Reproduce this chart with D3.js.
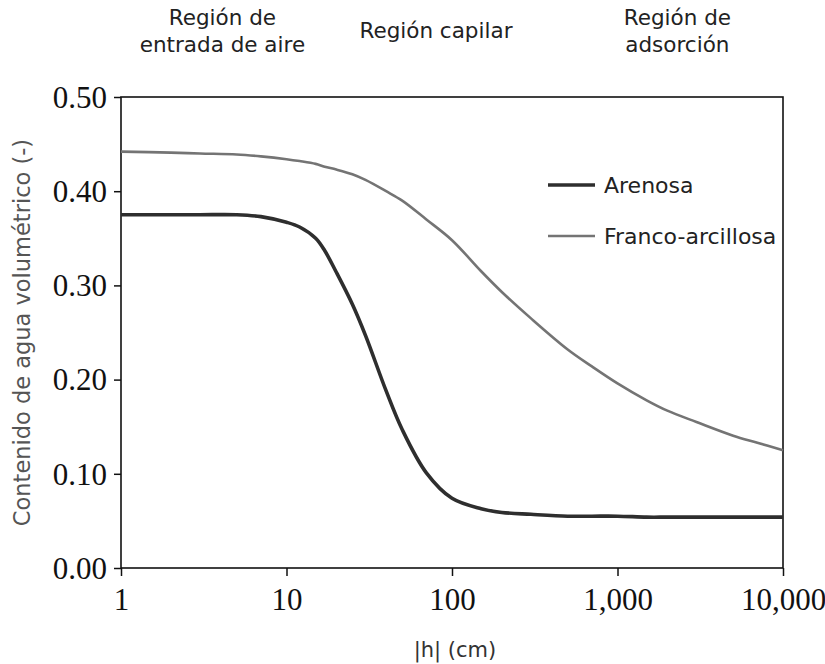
<!DOCTYPE html>
<html>
<head>
<meta charset="utf-8">
<script src="https://cdn.jsdelivr.net/npm/d3@7"></script>
<style>
  body { margin: 0; background: #fff; }
  svg { display: block; }
</style>
</head>
<body>
<svg width="825" height="664"></svg>
<script>
// succión |h| en cm
const succion = [1, 2, 3, 5, 7, 10, 12, 15, 17, 20, 25, 30, 40, 50, 70, 100, 150, 200, 300, 500, 700, 1000, 1500, 2000, 3000, 5000, 7000, 10000];
// contenido de agua volumétrico
const arenosa = [0.375, 0.375, 0.375, 0.375, 0.373, 0.367, 0.362, 0.350, 0.337, 0.314, 0.280, 0.247, 0.188, 0.147, 0.101, 0.074, 0.063, 0.059, 0.057, 0.055, 0.055, 0.055, 0.054, 0.054, 0.054, 0.054, 0.054, 0.054];
const francoArcillosa = [0.442, 0.441, 0.440, 0.439, 0.437, 0.434, 0.432, 0.429, 0.426, 0.423, 0.418, 0.412, 0.400, 0.390, 0.370, 0.348, 0.315, 0.293, 0.265, 0.232, 0.214, 0.196, 0.178, 0.167, 0.155, 0.1405, 0.133, 0.125];

const xTicks = [1, 10, 100, 1000, 10000];
const yTicks = [0, 0.1, 0.2, 0.3, 0.4, 0.5];
const regiones = [
  { lineas: ["Región de", "entrada de aire"], h: 4.1 },
  { lineas: ["Región capilar"], h: 80 },
  { lineas: ["Región de", "adsorción"], h: 2300 }
];
const series = [
  { nombre: "Arenosa", valores: arenosa, color: "#2e2e2e", ancho: 3.6 },
  { nombre: "Franco-arcillosa", valores: francoArcillosa, color: "#747474", ancho: 2.6 }
];

const svg = d3.select("svg");
const margin = { left: 121, right: 42, top: 97, bottom: 96 };
const width = +svg.attr("width");
const height = +svg.attr("height");

const x = d3.scaleLog()
  .domain([1, 10000])
  .range([margin.left, width - margin.right]);
const y = d3.scaleLinear()
  .domain([0, 0.5])
  .range([height - margin.bottom, margin.top]);

const serif = "'Liberation Serif', 'Times New Roman', serif";
const sans = "'DejaVu Sans', sans-serif";

// ejes
const ejeX = svg.append("g")
  .attr("transform", `translate(0,${y(0)})`)
  .call(d3.axisBottom(x).tickValues(xTicks).tickFormat(d3.format(",")).tickSize(8).tickPadding(8));
const ejeY = svg.append("g")
  .attr("transform", `translate(${x(1)},0)`)
  .call(d3.axisLeft(y).tickValues(yTicks).tickFormat(d3.format(".2f")).tickSize(7).tickPadding(7));

[ejeX, ejeY].forEach(g => {
  g.select(".domain").remove();
  g.selectAll(".tick line").attr("stroke", "#111").attr("stroke-width", 1.5);
  g.selectAll(".tick text")
    .attr("fill", "#111")
    .style("font-family", serif)
    .style("font-size", "31px");
});
ejeX.selectAll(".tick text").attr("dy", "0.85em");
ejeY.selectAll(".tick text").attr("dy", "0.33em");

// marco
svg.append("rect")
  .attr("x", x(1))
  .attr("y", y(0.5))
  .attr("width", x(10000) - x(1))
  .attr("height", y(0) - y(0.5))
  .attr("fill", "none")
  .attr("stroke", "#111")
  .attr("stroke-width", 1.6);

// curvas
const linea = d3.line()
  .x((d, i) => x(succion[i]))
  .y(d => y(d))
  .curve(d3.curveCatmullRom.alpha(0.5));

series.forEach(s => {
  svg.append("path")
    .attr("d", linea(s.valores))
    .attr("fill", "none")
    .attr("stroke", s.color)
    .attr("stroke-width", s.ancho)
    .attr("stroke-linejoin", "round");
});

// leyenda
const leyenda = svg.append("g").attr("transform", "translate(548,185)");
series.forEach((s, i) => {
  const fila = leyenda.append("g").attr("transform", `translate(0,${i * 51})`);
  fila.append("line")
    .attr("x1", 0).attr("x2", 47)
    .attr("stroke", s.color)
    .attr("stroke-width", s.ancho);
  fila.append("text")
    .attr("x", 56)
    .attr("dy", "0.35em")
    .style("font-family", sans)
    .style("font-size", "22px")
    .attr("fill", "#222")
    .text(s.nombre);
});

// regiones arriba
regiones.forEach(r => {
  const t = svg.append("text")
    .attr("text-anchor", "middle")
    .style("font-family", sans)
    .style("font-size", "21.5px")
    .attr("fill", "#222");
  const y0 = r.lineas.length === 1 ? 38 : 25;
  r.lineas.forEach((l, i) => {
    t.append("tspan")
      .attr("x", x(r.h))
      .attr("y", y0 + i * 27)
      .text(l);
  });
});

// títulos de ejes
svg.append("text")
  .attr("x", 455)
  .attr("y", 657)
  .attr("text-anchor", "middle")
  .style("font-family", sans)
  .style("font-size", "21px")
  .attr("fill", "#333")
  .text("|h| (cm)");

svg.append("text")
  .attr("transform", `translate(30,${(y(0) + y(0.5)) / 2}) rotate(-90)`)
  .attr("text-anchor", "middle")
  .style("font-family", sans)
  .style("font-size", "22.5px")
  .attr("fill", "#555")
  .text("Contenido de agua volumétrico (-)");
</script>
</body>
</html>
